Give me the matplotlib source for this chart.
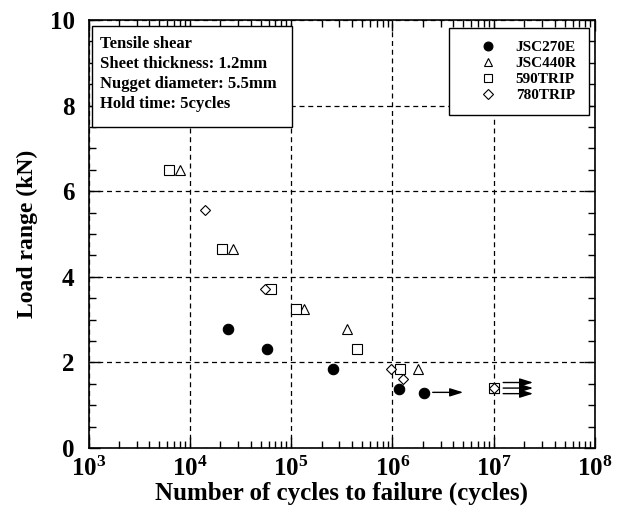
import matplotlib
matplotlib.use("Agg")
import matplotlib.pyplot as plt
from matplotlib.patches import Rectangle
from matplotlib.ticker import LogLocator, LogFormatterMathtext, MultipleLocator, NullFormatter

plt.rcParams['font.family'] = ['Liberation Serif', 'DejaVu Serif']
plt.rcParams['font.weight'] = 'bold'
plt.rcParams['mathtext.fontset'] = 'custom'
plt.rcParams['mathtext.rm'] = 'Liberation Serif:bold'
plt.rcParams['mathtext.bf'] = 'Liberation Serif:bold'
plt.rcParams['mathtext.default'] = 'rm'

# --- data ---
jsc270e_cycles = [2.37e4, 5.8e4, 2.58e5, 1.17e6, 2.05e6]
jsc270e_load = [2.78, 2.31, 1.85, 1.38, 1.28]

jsc440r_cycles = [8.0e3, 2.65e4, 1.34e5, 3.54e5, 1.8e6, 1.0e7]
jsc440r_load = [6.5, 4.65, 3.25, 2.78, 1.85, 1.40]

trip590_cycles = [6.3e3, 2.1e4, 6.4e4, 1.12e5, 4.45e5, 1.19e6, 1.0e7]
trip590_load = [6.5, 4.65, 3.72, 3.25, 2.31, 1.85, 1.40]

trip780_cycles = [1.42e4, 5.5e4, 9.6e5, 1.26e6, 1.0e7]
trip780_load = [5.56, 3.72, 1.85, 1.61, 1.40]

# run-out arrows: (start cycles, end cycles, load)
runout_start = [2.5e6, 1.24e7, 1.24e7, 1.24e7]
runout_end = [5.0e6, 2.45e7, 2.45e7, 2.45e7]
runout_load = [1.30, 1.53, 1.40, 1.27]

series_labels = ["JSC270E", "JSC440R", "590TRIP", "780TRIP"]
info_lines = ["Tensile shear", "Sheet thickness: 1.2mm",
              "Nugget diameter: 5.5mm", "Hold time: 5cycles"]

W, H = 624, 513
AX_L, AX_R, AX_T, AX_B = 88.5, 595, 20, 448

fig = plt.figure(figsize=(W/100, H/100), dpi=100)
ax = fig.add_axes([AX_L/W, 1-AX_B/H, (AX_R-AX_L)/W, (AX_B-AX_T)/H])

def axx(px):
    return (px-AX_L)/(AX_R-AX_L)

def axy(py):
    return 1-(py-AX_T)/(AX_B-AX_T)

ax.set_xscale('log')
ax.set_xlim(1e3, 1e8)
ax.set_ylim(0, 10)

ax.grid(True, which='major', linestyle=(0, (4, 3)), color='black', linewidth=0.9)
ax.set_axisbelow(True)

mk = dict(linestyle='none', markeredgecolor='black', markeredgewidth=0.8, zorder=3)
ax.plot(jsc270e_cycles, jsc270e_load, marker='o', markersize=7.5,
        markerfacecolor='black', label=series_labels[0], **mk)
ax.plot(jsc440r_cycles, jsc440r_load, marker='^', markersize=7,
        markerfacecolor='white', label=series_labels[1], **mk)
ax.plot(trip590_cycles, trip590_load, marker='s', markersize=7,
        markerfacecolor='white', label=series_labels[2], **mk)
ax.plot(trip780_cycles, trip780_load, marker='D', markersize=5.5,
        markerfacecolor='white', label=series_labels[3], **mk)

for xs, xe, yl in zip(runout_start, runout_end, runout_load):
    ax.annotate('', xy=(xe, yl), xytext=(xs, yl),
                arrowprops=dict(arrowstyle='-|>,head_length=0.8,head_width=0.25',
                                color='black', lw=1.0, shrinkA=0, shrinkB=0))

ax.xaxis.set_major_locator(LogLocator(base=10, numticks=10))
ax.xaxis.set_major_formatter(LogFormatterMathtext())
ax.xaxis.set_minor_locator(LogLocator(base=10, subs=range(2, 10), numticks=20))
ax.xaxis.set_minor_formatter(NullFormatter())
ax.yaxis.set_major_locator(MultipleLocator(2))
ax.yaxis.set_minor_locator(MultipleLocator(0.5))

ax.tick_params(which='both', direction='in', top=True, right=True, width=1)
ax.tick_params(which='major', length=8, labelsize=18)
ax.tick_params(axis='x', which='major', pad=6)
ax.tick_params(axis='y', which='major', pad=10)
ax.tick_params(which='minor', length=5)
for s in ax.spines.values():
    s.set_linewidth(1.2)

ax.set_xlabel("Number of cycles to failure (cycles)", fontsize=18, fontweight='bold', labelpad=1)
ax.set_ylabel("Load range (kN)", fontsize=17, fontweight='bold', labelpad=8)

# info box
ax.add_patch(Rectangle((axx(92), axy(127)), axx(292)-axx(92), axy(26)-axy(127),
                       transform=ax.transAxes, facecolor='white', edgecolor='black',
                       linewidth=1.0, zorder=5))
for i, line in enumerate(info_lines):
    ax.text(axx(99.5), axy(48.3 + i*19.97), line, transform=ax.transAxes,
            ha='left', va='baseline', fontsize=12, fontweight='bold', zorder=6)

leg = ax.legend(loc='upper right', bbox_to_anchor=(axx(589), axy(28)), borderaxespad=0,
                fancybox=False, edgecolor='black', framealpha=1, fontsize=11,
                handletextpad=0.05, borderpad=0.8, labelspacing=0.16, handlelength=3.5,
                markerscale=0.85)
leg.get_frame().set_linewidth(1.0)
leg.set_zorder(7)

fig.savefig("out.png", dpi=100)
